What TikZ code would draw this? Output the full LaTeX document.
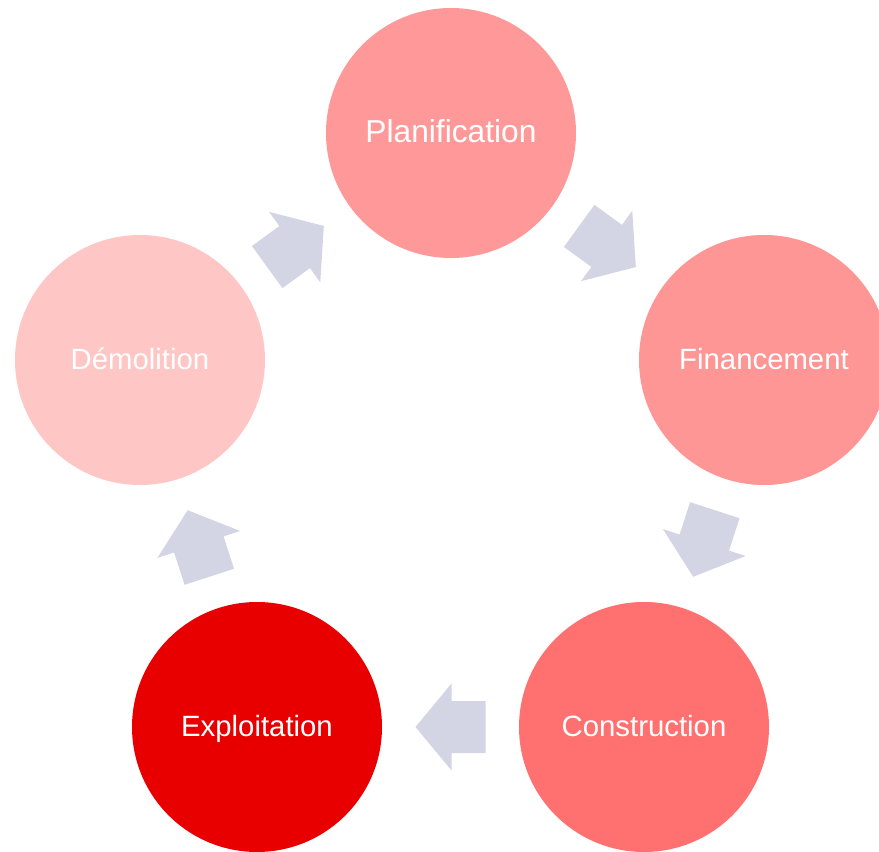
\documentclass[tikz,border=0pt]{standalone}
\usepackage{fontspec}
\setmainfont{Liberation Sans}
\usetikzlibrary{calc}
\definecolor{cPlan}{RGB}{255,153,153}
\definecolor{cFin}{RGB}{255,150,150}
\definecolor{cCon}{RGB}{255,112,112}
\definecolor{cExp}{RGB}{232,0,0}
\definecolor{cDem}{RGB}{255,198,198}
\definecolor{cArr}{RGB}{211,213,229}
\tikzset{
  stage/.style={circle, minimum size=250*0.75pt, inner sep=0pt, text=white,
    font=\fontsize{22}{26}\selectfont, text height=1.45em, text depth=0pt},
  bigtext/.style={font=\fontsize{23.8}{28}\selectfont},
  blockarrow/.pic={\fill[cArr] (-35,-26) -- (-1,-26) -- (-1,-43.5) -- (35,0) -- (-1,43.5) -- (-1,26) -- (-35,26) -- cycle;}
}
\begin{document}
\begin{tikzpicture}[x=0.75pt,y=0.75pt]
\clip (0,0) rectangle (879,851);
\fill[white] (0,0) rectangle (879,851);
\node[stage, bigtext, fill=cPlan] (plan) at (451,718) {Planification};
\node[stage, fill=cFin]  (fin)  at (764,491) {Financement};
\node[stage, fill=cCon]  (con)  at (644,124) {Construction};
\node[stage, fill=cExp]  (exp)  at (257,124) {Exploitation};
\node[stage, fill=cDem]  (dem)  at (140,491) {Démolition};
\path ($(dem)!0.5!(plan)$) pic[rotate=36] {blockarrow};
\path ($(plan)!0.5!(fin)$) pic[rotate=-36] {blockarrow};
\path ($(fin)!0.5!(con)$) pic[rotate=-108] {blockarrow};
\path ($(con)!0.5!(exp)$) pic[rotate=180] {blockarrow};
\path ($(exp)!0.5!(dem)$) pic[rotate=108] {blockarrow};
\end{tikzpicture}
\end{document}
